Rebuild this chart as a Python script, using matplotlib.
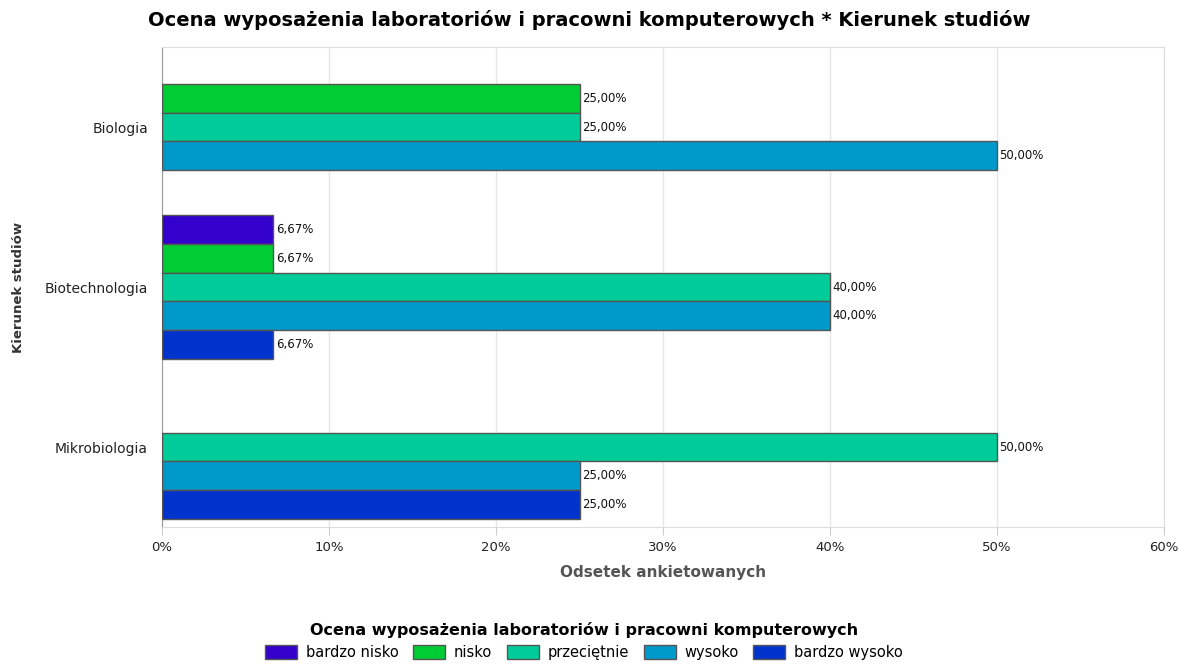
import matplotlib
matplotlib.use("Agg")
import matplotlib.pyplot as plt
import numpy as np
from matplotlib.patches import Patch

plt.rcParams['font.family'] = ['DejaVu Sans']

kierunki = ['Biologia', 'Biotechnologia', 'Mikrobiologia']
oceny = ['bardzo nisko', 'nisko', 'przeciętnie', 'wysoko', 'bardzo wysoko']
kolory = ['#3300cc', '#00cc33', '#00cc99', '#0099cc', '#0033cc']

# percent per rating, one list per field of study
biologia = [0, 25.0, 25.0, 50.0, 0]
biotechnologia = [6.67, 6.67, 40.0, 40.0, 6.67]
mikrobiologia = [0, 0, 50.0, 25.0, 25.0]
dane = np.array([biologia, biotechnologia, mikrobiologia])

fig = plt.figure(figsize=(11.88, 6.64), dpi=100)
ax = fig.add_axes([162/1188, 1 - 527/664, 1002/1188, 480/664])

h = 0.181
y = np.arange(len(kierunki))
for i, (ocena, kol) in enumerate(zip(oceny, kolory)):
    vals = dane[:, i]
    pos = y + (i - 2) * h
    mask = vals > 0
    ax.barh(pos[mask], vals[mask], height=h, color=kol, edgecolor='#555555',
            linewidth=1, zorder=3)
    for p, v in zip(pos[mask], vals[mask]):
        ax.text(v + 0.15, p, f'{v:.2f}%'.replace('.', ','), va='center', ha='left',
                fontsize=8.5, color='#111111')

ax.set_xlim(0, 60)
ax.set_ylim(2.5, -0.5)
ax.set_xticks(np.arange(0, 61, 10))
ax.set_xticklabels([f'{t}%' for t in range(0, 61, 10)], fontsize=9.5, color='#222222')
ax.set_yticks(y)
ax.set_yticklabels(kierunki, fontsize=10, color='#222222')
ax.tick_params(axis='y', length=0, pad=10)
ax.tick_params(axis='x', length=6, color='#cccccc', pad=4)
ax.grid(axis='x', color='#e6e6e6', linewidth=1, zorder=0)
for s in ['top', 'right', 'bottom']:
    ax.spines[s].set_color('#dddddd')
ax.spines['left'].set_color('#999999')

ax.set_xlabel('Odsetek ankietowanych', fontsize=11, fontweight='bold', color='#555555', labelpad=8)
ax.set_ylabel('Kierunek studiów', fontsize=9.5, fontweight='bold', color='#333333')
ax.yaxis.set_label_coords(-137/1002, 0.5)
fig.text(148/1188, 1 - 20/664, 'Ocena wyposażenia laboratoriów i pracowni komputerowych * Kierunek studiów',
         fontsize=14, fontweight='bold', va='center', ha='left')

uchwyty = [Patch(facecolor=k, edgecolor='#555555', label=o) for o, k in zip(oceny, kolory)]
leg = fig.legend(handles=uchwyty, loc='center', bbox_to_anchor=(584/1188, 1 - 641/664), ncol=5,
                 frameon=False, fontsize=10.5, title='Ocena wyposażenia laboratoriów i pracowni komputerowych',
                 title_fontproperties={'weight': 'bold', 'size': 11.5},
                 handlelength=2.2, handleheight=1.1, columnspacing=1.0, handletextpad=0.6)

fig.savefig('out.png', dpi=100)
